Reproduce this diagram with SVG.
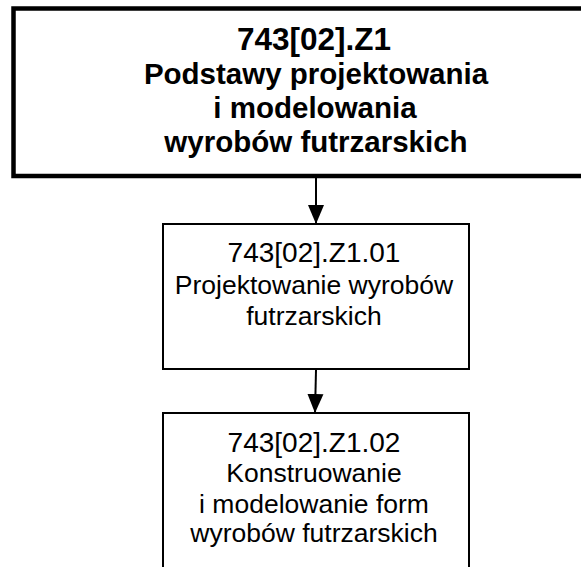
<svg xmlns="http://www.w3.org/2000/svg" width="581" height="567" viewBox="0 0 581 567">
<style>
  .t { font-family: "Liberation Sans", Arial, sans-serif; fill: #000; text-anchor: middle; }
  .b { font-weight: bold; font-size: 29.5px; }
  .bh { font-weight: bold; font-size: 31.5px; }
  .h { font-size: 28px; }
  .n { font-size: 26.5px; }
  .box { fill: #fff; stroke: #000; }
  .conn { stroke: #000; stroke-width: 2; fill: none; }
</style>
<defs>
  <marker id="ah" markerUnits="userSpaceOnUse" markerWidth="20" markerHeight="20" refX="19" refY="8" orient="auto" viewBox="0 0 20 16">
    <path d="M0,0 L19,8 L0,16 Z" fill="#000"/>
  </marker>
</defs>
<rect width="581" height="567" fill="#fff"/>
<g id="connectors">
  <line class="conn" x1="316" y1="178" x2="316" y2="224" marker-end="url(#ah)"/>
  <line class="conn" x1="316" y1="370" x2="315" y2="413" marker-end="url(#ah)"/>
</g>
<g id="node-z1">
  <rect class="box" x="13.5" y="8.5" width="620" height="167.5" stroke-width="4.5"/>
  <text class="t bh" x="314" y="50">743[02].Z1</text>
  <text class="t b" x="316" y="84">Podstawy projektowania</text>
  <text class="t b" x="315" y="118">i modelowania</text>
  <text class="t b" x="316" y="152">wyrobów futrzarskich</text>
</g>
<g id="node-z1-01">
  <rect class="box" x="163" y="224" width="306" height="145" stroke-width="2"/>
  <text class="t h" x="314" y="262">743[02].Z1.01</text>
  <text class="t n" x="314" y="294">Projektowanie wyrobów</text>
  <text class="t n" x="314" y="325">futrzarskich</text>
</g>
<g id="node-z1-02">
  <rect class="box" x="163" y="413" width="306" height="170" stroke-width="2"/>
  <text class="t h" x="314" y="452">743[02].Z1.02</text>
  <text class="t n" x="314" y="482">Konstruowanie</text>
  <text class="t n" x="314" y="513">i modelowanie form</text>
  <text class="t n" x="314" y="542">wyrobów futrzarskich</text>
</g>
</svg>
